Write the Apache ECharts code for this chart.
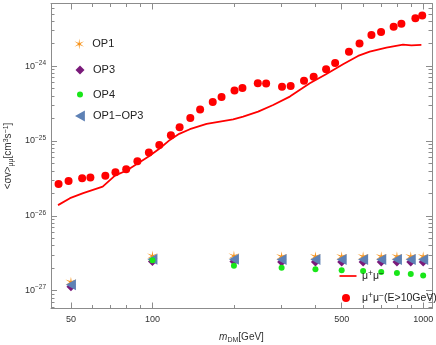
<!DOCTYPE html>
<html>
<head>
<meta charset="utf-8">
<script src="https://cdn.jsdelivr.net/npm/echarts@6/dist/echarts.min.js"></script>
<style>
  html, body { margin: 0; padding: 0; background: #fff; }
  #chart { width: 436px; height: 345px; }
</style>
</head>
<body>
<div id="chart"></div>
<script>
// μ+μ- limit curve
const lineMass = [44.8, 49.6, 55.5, 65.5, 72.7, 80.3, 87.9, 96.8, 106.6, 116, 125.6, 137.5, 158.5, 177.5,
  198.7, 216.3, 245.7, 279.2, 321.7, 381.3, 439.3, 505.8, 574.8, 634.7, 731.5, 842.4, 904.6, 984.9];
const lineSv = [1.39e-26, 1.72e-26, 2.01e-26, 2.46e-26, 3.45e-26, 4.03e-26, 4.95e-26, 6.19e-26, 8.01e-26,
  1.034e-25, 1.245e-25, 1.437e-25, 1.691e-25, 1.815e-25, 1.943e-25, 2.118e-25, 2.47e-25, 3.03e-25,
  3.92e-25, 5.91e-25, 7.87e-25, 1.06e-24, 1.368e-24, 1.562e-24, 1.766e-24, 1.936e-24, 1.90e-24, 1.92e-24];

// μ+μ-(E>10GeV) points
const dotMass = [45, 49, 55, 59, 67, 73, 80, 88, 97, 106, 117, 126, 138, 150, 167, 180, 201, 215,
  245, 263, 301, 324, 363, 394, 438, 473, 532, 582, 644, 699, 778, 831, 936, 992];
const dotSv = [2.67e-26, 2.93e-26, 3.19e-26, 3.25e-26, 3.42e-26, 3.83e-26, 4.20e-26, 5.37e-26, 7.00e-26,
  8.81e-26, 1.195e-25, 1.53e-25, 2.03e-25, 2.63e-25, 3.33e-25, 3.88e-25, 4.71e-25, 5.12e-25,
  5.93e-25, 5.87e-25, 5.31e-25, 5.41e-25, 6.40e-25, 7.22e-25, 9.12e-25, 1.10e-24, 1.56e-24,
  2.0e-24, 2.61e-24, 2.86e-24, 3.37e-24, 3.69e-24, 4.38e-24, 4.75e-24];

// benchmark operators
const opMass = [50, 100, 200, 300, 400, 500, 600, 700, 800, 900, 1000];
const op1 = [1.3e-27, 2.9e-27, 2.9e-27, 2.85e-27, 2.85e-27, 2.85e-27, 2.85e-27, 2.85e-27, 2.85e-27, 2.85e-27, 2.85e-27];
const op3 = [1.13e-27, 2.45e-27, 2.45e-27, 2.42e-27, 2.42e-27, 2.42e-27, 2.42e-27, 2.42e-27, 2.42e-27, 2.42e-27, 2.42e-27];
const op4 = [null, 2.55e-27, 2.15e-27, 2.02e-27, 1.94e-27, 1.88e-27, 1.83e-27, 1.77e-27, 1.72e-27, 1.67e-27, 1.60e-27];
const op13 = [1.2e-27, 2.62e-27, 2.62e-27, 2.6e-27, 2.6e-27, 2.6e-27, 2.6e-27, 2.6e-27, 2.6e-27, 2.6e-27, 2.6e-27];

// tick marks (data units)
const xMajor = [50, 100, 500, 1000];
const xMinor = [60, 70, 80, 90, 200, 300, 400, 600, 700, 800, 900];
const yMajor = [1e-27, 1e-26, 1e-25, 1e-24];
const yMinor = [];
[-28, -27, -26, -25, -24].forEach(e => {
  for (let k = 2; k <= 9; k++) {
    const v = k * Math.pow(10, e);
    if (v > 5.8e-28 && v < 6.8e-24) yMinor.push(v);
  }
});

// axis ranges; both axes are logarithmic, drawn as decades on value axes
const X_RANGE = [42.2, 1078];
const Y_RANGE = [5.78e-28, 6.87e-24];
const lg = Math.log10;
const FRAME = '#8c8c8c';
const FONT = 'Liberation Sans, Arial, sans-serif';
const TXT = '#333';

const STAR = 'path://M10,0L11.1,8.1L18.66,5L12.2,10L18.66,15L11.1,11.9L10,20L8.9,11.9L1.34,15L7.8,10L1.34,5L8.9,8.1Z';
const TRI_LEFT = 'path://M0,5L9,0L9,10Z';
const LINE_ICON = 'path://M0,0L20,0L20,2L0,2Z';

const pair = (xs, ys) => xs.map((x, i) => (ys[i] == null ? null : [lg(x), lg(ys[i])]));

// frame axes: main ones carry the line and labels, the others only add minor ticks
function xAxis(pos, ticks, len, main) {
  return {
    type: 'value', min: lg(X_RANGE[0]), max: lg(X_RANGE[1]), position: pos,
    axisLine: { show: main, onZero: false, lineStyle: { color: FRAME, width: 1 } },
    axisTick: { show: true, inside: true, length: len, customValues: ticks.map(lg), lineStyle: { color: FRAME, width: 1 } },
    axisLabel: { show: main && pos === 'bottom', customValues: ticks.map(lg), fontFamily: FONT, fontSize: 9,
      color: TXT, margin: 7, formatter: v => String(Math.round(Math.pow(10, v))) },
    splitLine: { show: false }
  };
}

function yAxis(pos, ticks, len, main) {
  return {
    type: 'value', min: lg(Y_RANGE[0]), max: lg(Y_RANGE[1]), position: pos,
    axisLine: { show: main, onZero: false, lineStyle: { color: FRAME, width: 1 } },
    axisTick: { show: true, inside: true, length: len, customValues: ticks.map(lg), lineStyle: { color: FRAME, width: 1 } },
    axisLabel: {
      show: main && pos === 'left', customValues: ticks.map(lg), margin: 5,
      formatter: v => '{b|10}{e|' + String(Math.round(v)).replace('-', '\u2212') + '}',
      rich: {
        b: { fontFamily: FONT, fontSize: 9, color: TXT },
        e: { fontFamily: FONT, fontSize: 6.5, color: TXT, padding: [0, 0, 6, 0] }
      }
    },
    splitLine: { show: false }
  };
}

const xs = [xAxis('bottom', xMajor, 6, true), xAxis('bottom', xMinor, 3.5, false),
  xAxis('top', xMajor, 6, true), xAxis('top', xMinor, 3.5, false)];
xs[0].name = '{i|m}{s|DM}{n|[GeV]}';
xs[0].nameLocation = 'middle';
xs[0].nameGap = 23;
xs[0].nameTextStyle = {
  rich: {
    i: { fontFamily: FONT, fontSize: 10, fontStyle: 'italic', color: TXT },
    s: { fontFamily: FONT, fontSize: 7, color: TXT, padding: [5, 0, 0, 0] },
    n: { fontFamily: FONT, fontSize: 10, color: TXT }
  }
};

const ys = [yAxis('left', yMajor, 6, true), yAxis('left', yMinor, 3.5, false),
  yAxis('right', yMajor, 6, true), yAxis('right', yMinor, 3.5, false)];
ys[0].name = '{n|<σv>}{s|μμ}{n|[cm}{p|3}{n|s}{p|\u22121}{n|]}';
ys[0].nameLocation = 'middle';
ys[0].nameRotate = 90;
ys[0].nameGap = 34;
ys[0].nameTextStyle = {
  rich: {
    n: { fontFamily: FONT, fontSize: 10, color: TXT },
    s: { fontFamily: FONT, fontSize: 7, color: TXT, padding: [5, 0, 0, 0] },
    p: { fontFamily: FONT, fontSize: 7, color: TXT, padding: [0, 0, 5, 0] }
  }
};

const muRich = {
  n: { fontFamily: FONT, fontSize: 10.5, color: '#222' },
  p: { fontFamily: FONT, fontSize: 8.5, color: '#222', padding: [0, 0, 5, 0] }
};

// one legend block per entry so every icon can keep its own size
function legend(name, cx, cy, w, h, textX, label, icon) {
  const left = cx - w / 2;
  return {
    data: icon ? [{ name: name, icon: icon }] : [name],
    left: left, top: cy - h / 2, padding: 0,
    itemWidth: w, itemHeight: h, selectedMode: false,
    textStyle: {
      fontFamily: FONT, fontSize: 11, color: '#222',
      padding: [0, 0, 0, textX - (left + w + 5)], rich: muRich
    },
    formatter: () => label
  };
}

const option = {
  animation: false,
  backgroundColor: '#fff',
  grid: { left: 51, right: 4, top: 3.5, bottom: 36.5, outerBoundsMode: 'none', containLabel: false },
  xAxis: xs,
  yAxis: ys,
  legend: [
    legend('OP1', 80, 44, 11, 11, 93, 'OP1'),
    legend('OP3', 80, 69, 9, 9, 93, 'OP3'),
    legend('OP4', 80, 92, 6, 6, 93, 'OP4'),
    legend('OP1\u2212OP3', 80, 116, 10, 11, 93, 'OP1\u2212OP3'),
    legend('mumu', 348, 270, 17, 2, 362, '{n|μ}{p|+}{n|μ}{p|\u2212}', LINE_ICON),
    legend('mumu10', 346, 295, 8, 8, 362, '{n|μ}{p|+}{n|μ}{p|\u2212}{n|(E>10GeV)}')
  ],
  series: [
    {
      name: 'mumu', type: 'line', data: pair(lineMass, lineSv), showSymbol: false, symbol: 'none',
      lineStyle: { color: '#ff0000', width: 1.8 }, itemStyle: { color: '#ff0000' }
    },
    {
      name: 'mumu10', type: 'scatter', data: pair(dotMass, dotSv), symbol: 'circle', symbolSize: 8,
      itemStyle: { color: '#ff0000', opacity: 1 }
    },
    {
      name: 'OP1', type: 'scatter', data: pair(opMass, op1), symbol: STAR, symbolSize: 11,
      itemStyle: { color: '#f7941d', opacity: 1 }
    },
    {
      name: 'OP3', type: 'scatter', data: pair(opMass, op3), symbol: 'diamond', symbolSize: 9,
      itemStyle: { color: '#7a1a7a', opacity: 1 }
    },
    {
      name: 'OP1\u2212OP3', type: 'scatter', data: pair(opMass, op13), symbol: TRI_LEFT, symbolSize: [10, 11],
      itemStyle: { color: '#5e81b5', opacity: 1 }
    },
    {
      name: 'OP4', type: 'scatter', data: pair(opMass, op4), symbol: 'circle', symbolSize: 6,
      itemStyle: { color: '#19e619', opacity: 1 }
    }
  ]
};

const chart = echarts.init(document.getElementById('chart'), null, { renderer: 'canvas' });
chart.setOption(option);
</script>
</body>
</html>
